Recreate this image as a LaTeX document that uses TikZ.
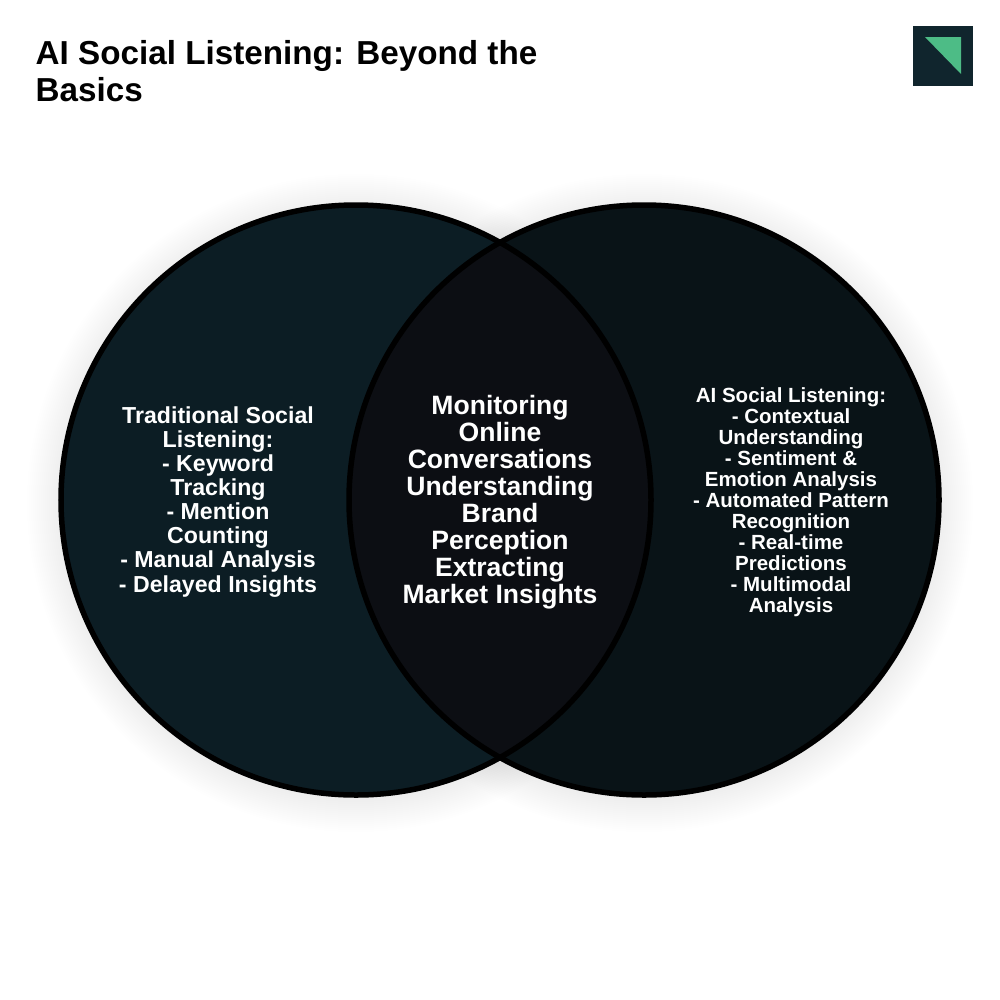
\documentclass[tikz,border=0pt]{standalone}
\usepackage{fontspec}
\setmainfont{Liberation Sans}
\definecolor{leftfill}{HTML}{0C1D24}
\definecolor{rightfill}{HTML}{091317}
\definecolor{midfill}{HTML}{0C0E13}
\definecolor{logobg}{HTML}{10252D}
\definecolor{logotri}{HTML}{4DBC86}
\tikzset{
  x=0.01cm,y=-0.01cm,
  ring/.style={draw=black,line width=0.055cm},
  label/.style={text=white,align=center,inner sep=0pt},
  titlefont/.style={font=\bfseries\fontsize{9.45pt}{10.55pt}\selectfont},
  leftfont/.style={font=\bfseries\fontsize{6.58pt}{6.83pt}\selectfont},
  midfont/.style={font=\bfseries\fontsize{7.55pt}{7.68pt}\selectfont},
  rightfont/.style={font=\bfseries\fontsize{5.83pt}{5.97pt}\selectfont},
}
\begin{document}
\begin{tikzpicture}
\useasboundingbox (0,0) rectangle (1000,1000);
\fill[white] (0,0) rectangle (1000,1000);
% soft shadows
\foreach \d in {2,4,...,34}{
  \fill[black,opacity=0.002] (356,503) circle ({295+\d});
  \fill[black,opacity=0.002] (644,503) circle ({295+\d});
}
\fill[leftfill] (356,500) circle (295);
\fill[rightfill] (644,500) circle (295);
\begin{scope}
  \clip (356,500) circle (295);
  \fill[midfill] (644,500) circle (295);
\end{scope}
\draw[ring] (356,500) circle (295);
\draw[ring] (644,500) circle (295);
% logo
\fill[logobg] (913,26) rectangle (973,86);
\fill[logotri] (925,37) -- (961,37) -- (961,74) -- cycle;
% title
\node[anchor=north west,inner sep=0pt,text=black,align=left,titlefont] (title) at (35,40)
  {AI Social Listening: Beyond the\\Basics};
\node[label,leftfont] (leftText) at (218,502) {Traditional Social\\Listening:\\- Keyword\\Tracking\\- Mention\\Counting\\- Manual Analysis\\- Delayed Insights};
\node[label,midfont] (midText) at (500,502) {Monitoring\\Online\\Conversations\\Understanding\\Brand\\Perception\\Extracting\\Market Insights};
\node[label,rightfont] (rightText) at (791,502) {AI Social Listening:\\- Contextual\\Understanding\\- Sentiment \&\\Emotion Analysis\\- Automated Pattern\\Recognition\\- Real-time\\Predictions\\- Multimodal\\Analysis};
\end{tikzpicture}
\end{document}
